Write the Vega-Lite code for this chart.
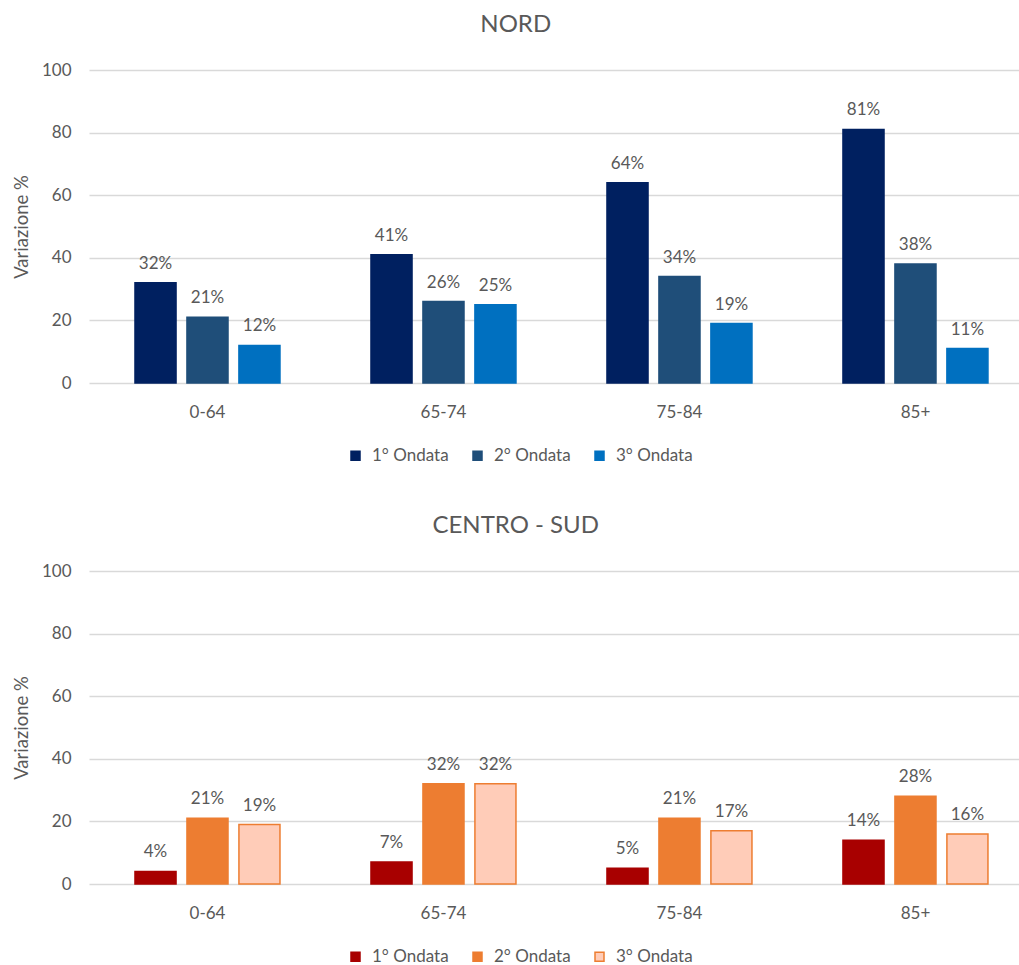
{
  "$schema": "https://vega.github.io/schema/vega-lite/v6.json",
  "padding": {"left": 12, "top": 13, "right": 0, "bottom": 0},
  "background": "white",
  "config": {
    "font": "Lato",
    "view": {"stroke": null},
    "axis": {"labelColor": "#595959", "labelFontSize": 17, "titleColor": "#595959", "titleFontSize": 18.5, "titleFontWeight": "normal", "ticks": false, "domain": false},
    "title": {"color": "#595959", "fontSize": 24, "fontWeight": "normal", "frame": "bounds", "anchor": "middle", "baseline": "alphabetic", "offset": 24},
    "legend": {"labelColor": "#595959", "labelFontSize": 17, "symbolType": "square", "symbolSize": 81, "labelOffset": 8, "columnPadding": 20, "padding": 0, "orient": "none", "direction": "horizontal", "legendX": 258, "legendY": 377, "title": null, "symbolStrokeWidth": 1.5}
  },
  "datasets": {
    "nord": [
      {"eta": "0-64", "ondata": "1° Ondata", "v": 32},
      {"eta": "0-64", "ondata": "2° Ondata", "v": 21},
      {"eta": "0-64", "ondata": "3° Ondata", "v": 12},
      {"eta": "65-74", "ondata": "1° Ondata", "v": 41},
      {"eta": "65-74", "ondata": "2° Ondata", "v": 26},
      {"eta": "65-74", "ondata": "3° Ondata", "v": 25},
      {"eta": "75-84", "ondata": "1° Ondata", "v": 64},
      {"eta": "75-84", "ondata": "2° Ondata", "v": 34},
      {"eta": "75-84", "ondata": "3° Ondata", "v": 19},
      {"eta": "85+", "ondata": "1° Ondata", "v": 81},
      {"eta": "85+", "ondata": "2° Ondata", "v": 38},
      {"eta": "85+", "ondata": "3° Ondata", "v": 11}
    ],
    "sud": [
      {"eta": "0-64", "ondata": "1° Ondata", "v": 4},
      {"eta": "0-64", "ondata": "2° Ondata", "v": 21},
      {"eta": "0-64", "ondata": "3° Ondata", "v": 19},
      {"eta": "65-74", "ondata": "1° Ondata", "v": 7},
      {"eta": "65-74", "ondata": "2° Ondata", "v": 32},
      {"eta": "65-74", "ondata": "3° Ondata", "v": 32},
      {"eta": "75-84", "ondata": "1° Ondata", "v": 5},
      {"eta": "75-84", "ondata": "2° Ondata", "v": 21},
      {"eta": "75-84", "ondata": "3° Ondata", "v": 17},
      {"eta": "85+", "ondata": "1° Ondata", "v": 14},
      {"eta": "85+", "ondata": "2° Ondata", "v": 28},
      {"eta": "85+", "ondata": "3° Ondata", "v": 16}
    ]
  },
  "spacing": 50,
  "resolve": {"scale": {"color": "independent", "stroke": "independent"}, "legend": {"color": "independent", "stroke": "independent"}},
  "vconcat": [
    {
      "title": {"text": "NORD"},
      "width": 930,
      "height": 313,
      "data": {"name": "nord"},
      "transform": [{"calculate": "datum.v + '%'", "as": "label"}],
      "encoding": {
        "x": {"field": "eta", "type": "nominal", "sort": null, "title": null, "scale": {"paddingInner": 0.3856, "paddingOuter": 0.1632, "align": 0.597}, "axis": {"labelAngle": 0, "labelPadding": 21}},
        "xOffset": {"field": "ondata", "type": "nominal", "scale": {"paddingInner": 0.21, "paddingOuter": 0}},
        "y": {"field": "v", "type": "quantitative", "title": "Variazione %", "scale": {"domain": [0, 100]}, "axis": {"values": [0, 20, 40, 60, 80, 100], "gridColor": "#D9D9D9", "gridWidth": 1.5, "labelPadding": 18, "titlePadding": 10}}
      },
      "layer": [
        {
          "mark": {"type": "bar", "strokeWidth": 1.5},
          "encoding": {
            "color": {"field": "ondata", "type": "nominal", "title": null, "scale": {"domain": ["1° Ondata", "2° Ondata", "3° Ondata"], "range": ["#002060", "#1F4E79", "#0070C0"]}},
            "stroke": {"field": "ondata", "type": "nominal", "title": null, "scale": {"domain": ["1° Ondata", "2° Ondata", "3° Ondata"], "range": ["#002060", "#1F4E79", "#0070C0"]}}
          }
        },
        {
          "mark": {"type": "text", "baseline": "alphabetic", "dy": -14, "fontSize": 17, "color": "#595959"},
          "encoding": {"text": {"field": "label", "type": "nominal"}}
        }
      ]
    },
    {
      "title": {"text": "CENTRO - SUD"},
      "width": 930,
      "height": 313,
      "data": {"name": "sud"},
      "transform": [{"calculate": "datum.v + '%'", "as": "label"}],
      "encoding": {
        "x": {"field": "eta", "type": "nominal", "sort": null, "title": null, "scale": {"paddingInner": 0.3856, "paddingOuter": 0.1632, "align": 0.597}, "axis": {"labelAngle": 0, "labelPadding": 21}},
        "xOffset": {"field": "ondata", "type": "nominal", "scale": {"paddingInner": 0.21, "paddingOuter": 0}},
        "y": {"field": "v", "type": "quantitative", "title": "Variazione %", "scale": {"domain": [0, 100]}, "axis": {"values": [0, 20, 40, 60, 80, 100], "gridColor": "#D9D9D9", "gridWidth": 1.5, "labelPadding": 18, "titlePadding": 10}}
      },
      "layer": [
        {
          "mark": {"type": "bar", "strokeWidth": 1.5},
          "encoding": {
            "color": {"field": "ondata", "type": "nominal", "title": null, "scale": {"domain": ["1° Ondata", "2° Ondata", "3° Ondata"], "range": ["#A80000", "#ED7D31", "#FFCCB8"]}},
            "stroke": {"field": "ondata", "type": "nominal", "title": null, "scale": {"domain": ["1° Ondata", "2° Ondata", "3° Ondata"], "range": ["#A80000", "#ED7D31", "#ED7D31"]}}
          }
        },
        {
          "mark": {"type": "text", "baseline": "alphabetic", "dy": -14, "fontSize": 17, "color": "#595959"},
          "encoding": {"text": {"field": "label", "type": "nominal"}}
        }
      ]
    }
  ]
}
